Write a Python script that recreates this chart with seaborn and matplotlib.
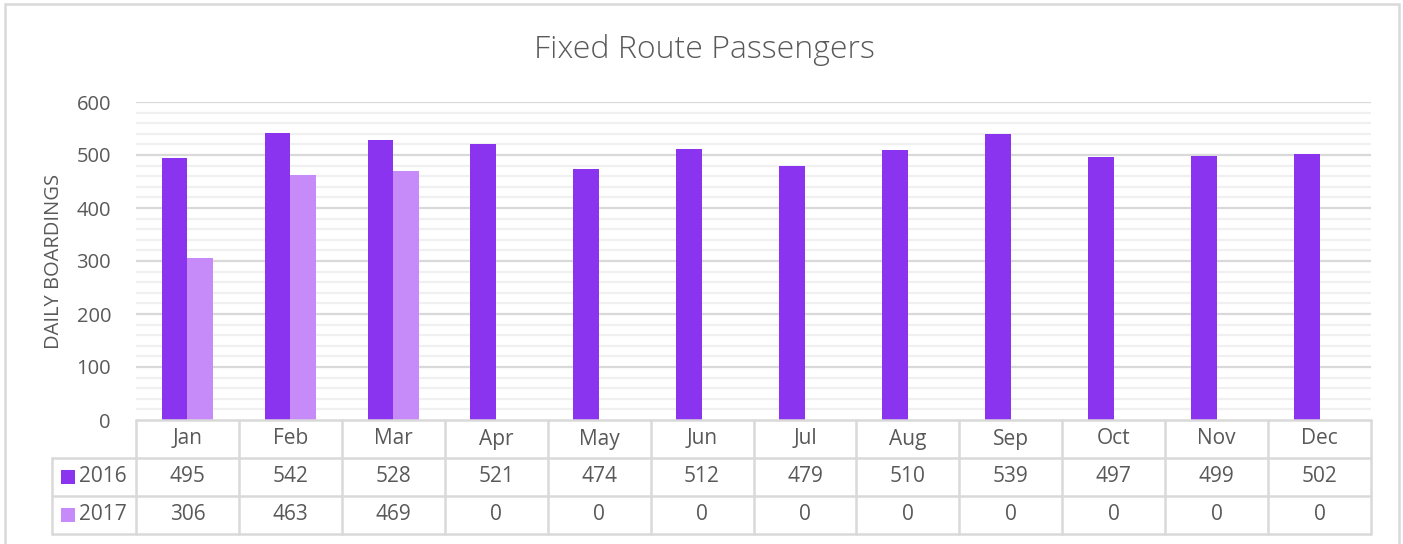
import matplotlib
matplotlib.use("Agg")
import matplotlib.pyplot as plt
import seaborn as sns
import pandas as pd
from matplotlib.patches import Rectangle

months = ["Jan", "Feb", "Mar", "Apr", "May", "Jun", "Jul", "Aug", "Sep", "Oct", "Nov", "Dec"]
series_names = ["2016", "2017"]
values_2016 = [495, 542, 528, 521, 474, 512, 479, 510, 539, 497, 499, 502]
values_2017 = [306, 463, 469, 0, 0, 0, 0, 0, 0, 0, 0, 0]
colors = ["#8A34EF", "#C68BF8"]
title = "Fixed Route Passengers"
ylabel = "DAILY BOARDINGS"
yticks = [0, 100, 200, 300, 400, 500, 600]

df = pd.DataFrame({
    "month": months * 2,
    "value": values_2016 + values_2017,
    "year": [series_names[0]] * 12 + [series_names[1]] * 12,
})

sns.set_theme(style="white")
plt.rcParams["font.family"] = ["Open Sans", "DejaVu Sans"]
text_color = "#595959"
grid_major = "#D9D9D9"
grid_minor = "#F0F0F0"

W, H = 1403, 544
fig = plt.figure(figsize=(W / 100, H / 100), dpi=100)
L, R, T, B = 136, 1371, 102, 420
ax = fig.add_axes([L / W, 1 - B / H, (R - L) / W, (B - T) / H])

sns.barplot(data=df, x="month", y="value", hue="year", palette=colors,
            width=0.5, gap=0, saturation=1, ax=ax, legend=False,
            edgecolor="none", linewidth=0, errorbar=None, zorder=3)

ax.set_xlim(-0.5, 11.5)
ax.set_ylim(0, 600)
ax.set_yticks(yticks)
ax.grid(False)
for v in range(20, 601, 20):
    if v % 100 == 0:
        ax.axhline(v, color=grid_major, lw=1.6, zorder=1)
    else:
        ax.axhline(v, color=grid_minor, lw=1.6, zorder=0.5)
ax.tick_params(axis="y", which="both", length=0, pad=18, labelsize=14.5, labelcolor=text_color)
ax.tick_params(axis="x", which="both", length=0, labelbottom=False)
ax.set_xlabel("")
ax.set_ylabel(ylabel, fontsize=14.5, color=text_color)
ax.yaxis.set_label_coords((64 - L) / (R - L), 0.5)
for s in ax.spines.values():
    s.set_visible(False)

# Data table below the axes
ph = B - T
def yf(px):
    return (B - px) / ph
def xf(px):
    return (px - L) / (R - L)

row_h = 38
y_hdr_bot = B + row_h
y_r1_bot = B + 2 * row_h
y_r2_bot = B + 3 * row_h
lc = grid_major
lw = 1.8
kw = dict(transform=ax.transAxes, clip_on=False, color=lc, lw=lw, zorder=4)
ax.plot([0, 1], [0, 0], **kw)
ax.plot([xf(52), 1], [yf(y_hdr_bot)] * 2, **kw)
ax.plot([xf(52), 1], [yf(y_r1_bot)] * 2, **kw)
ax.plot([xf(52), 1], [yf(y_r2_bot)] * 2, **kw)
for i in range(13):
    ax.plot([i / 12, i / 12], [0, yf(y_r2_bot)], **kw)
ax.plot([xf(52), xf(52)], [yf(y_hdr_bot), yf(y_r2_bot)], **kw)

tkw = dict(transform=ax.transAxes, ha="center", va="center", fontsize=15,
           color=text_color, clip_on=False)
for i, m in enumerate(months):
    xc = (i + 0.5) / 12
    ax.text(xc, yf(B + row_h / 2), m, **tkw)
    ax.text(xc, yf(y_hdr_bot + row_h / 2), str(values_2016[i]), **tkw)
    ax.text(xc, yf(y_r1_bot + row_h / 2), str(values_2017[i]), **tkw)

for j, (name, col) in enumerate(zip(series_names, colors)):
    yc = yf(y_hdr_bot + row_h * j + row_h / 2)
    sq = 14
    ax.add_patch(Rectangle((xf(61), yc - (sq / 2) / ph), sq / (R - L), sq / ph,
                           transform=ax.transAxes, clip_on=False, facecolor=col,
                           edgecolor="none", zorder=5))
    ax.text(xf(79), yc, name, transform=ax.transAxes, ha="left", va="center",
            fontsize=15, color=text_color, clip_on=False)

fig.text(0.5 * (533 + 876) / W, 1 - 50 / H, title, ha="center", va="center",
         fontsize=23, color=text_color, fontweight="light")

fig.patches.append(Rectangle((5 / W, -0.05), (1399 - 5) / W, 1 - 4 / H + 0.05,
                             transform=fig.transFigure, fill=False,
                             edgecolor="#D9D9D9", lw=1.8))

fig.savefig("out.png", dpi=100)
